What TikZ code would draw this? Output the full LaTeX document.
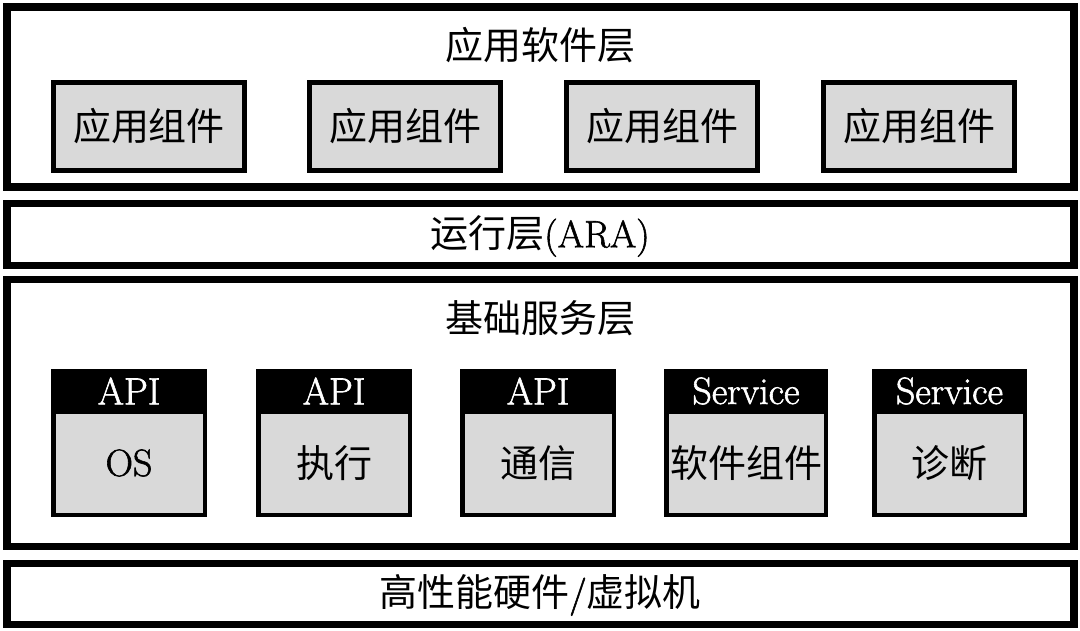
\documentclass[tikz,border=0pt]{standalone}
\usepackage{fontspec}
\setmainfont{Latin Modern Roman}[FakeBold=1.5]
\newfontfamily\cjk{Noto Sans CJK SC}
\definecolor{compgray}{HTML}{D9D9D9}
\begin{document}
\begin{tikzpicture}[x=1pt,y=-1pt,
  every node/.style={inner sep=0pt, outer sep=0pt},
  bigtxt/.style={font=\fontsize{38}{40}\selectfont},
  layerbox/.style={draw=black, line width=7.5pt, fill=white, minimum width=1067pt},
  appbox/.style={draw=black, line width=5pt, fill=compgray, minimum width=191pt, minimum height=88pt, bigtxt},
  svcframe/.style={fill=black, minimum height=148pt},
  svcbody/.style={fill=compgray, minimum height=99pt, bigtxt},
  svchead/.style={text=white, bigtxt}]
\useasboundingbox (0,0) rectangle (1080,630);
% layers
\node[layerbox, minimum height=180pt] (app) at (540.25,97) {};
\node[layerbox, minimum height=62pt] (ara) at (540.25,234.5) {};
\node[layerbox, minimum height=267pt] (base) at (540.25,413) {};
\node[layerbox, minimum height=61pt] (hw) at (540.25,594) {};
% layer titles
\node[bigtxt] (appT) at (540,45) {\cjk 应用软件层};
\node[bigtxt] (araT) at (540,236) {{\cjk 运行层}(ARA)};
\node[bigtxt] (baseT) at (540,318) {\cjk 基础服务层};
\node[bigtxt] (hwT) at (540,595) {{\cjk 高性能硬件}/{\cjk 虚拟机}};
% application components
\node[appbox] (a1) at (149,126.5) {\cjk 应用组件};
\node[appbox] (a2) at (405,126.5) {\cjk 应用组件};
\node[appbox] (a3) at (662,126.5) {\cjk 应用组件};
\node[appbox] (a4) at (919,126.5) {\cjk 应用组件};
% service components
\node[svcframe, minimum width=156pt] (s1) at (129,443) {};
\node[svcframe, minimum width=156pt] (s2) at (334,443) {};
\node[svcframe, minimum width=156pt] (s3) at (538,443) {};
\node[svcframe, minimum width=164pt] (s4) at (746,443) {};
\node[svcframe, minimum width=155pt] (s5) at (949.5,443) {};
\node[svcbody, minimum width=147pt] (b1) at (129,463) {OS};
\node[svcbody, minimum width=147pt] (b2) at (334,463) {\cjk 执行};
\node[svcbody, minimum width=147pt] (b3) at (538,463) {\cjk 通信};
\node[svcbody, minimum width=155pt] (b4) at (746,463) {\cjk 软件组件};
\node[svcbody, minimum width=146pt] (b5) at (949.5,463) {\cjk 诊断};
\node[svchead] (h1) at (129,391) {API};
\node[svchead] (h2) at (334,391) {API};
\node[svchead] (h3) at (538,391) {API};
\node[svchead] (h4) at (746,391) {Service};
\node[svchead] (h5) at (949.5,391) {Service};
\end{tikzpicture}
\end{document}
